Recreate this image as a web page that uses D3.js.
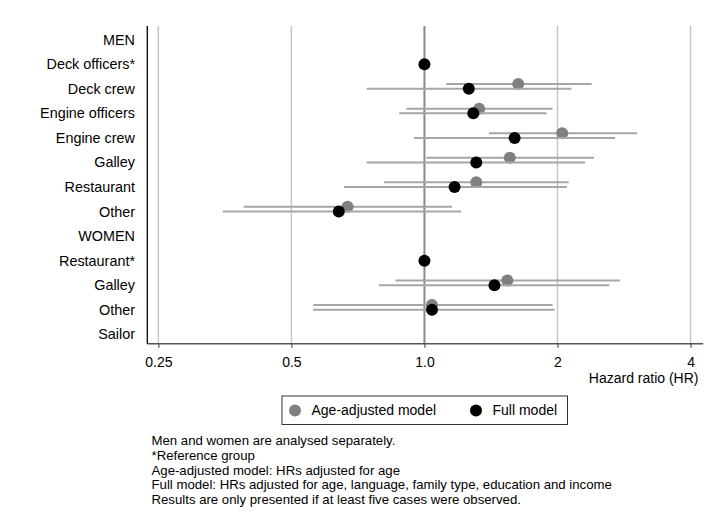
<!DOCTYPE html>
<html>
<head>
<meta charset="utf-8">
<script src="https://cdn.jsdelivr.net/npm/d3@7"></script>
<style>
  body { margin: 0; background: #fff; }
  text { font-family: Arial, "Liberation Sans", sans-serif; fill: #000; }
</style>
</head>
<body>
<div id="chart"></div>
<script>
// Rows, top to bottom
const categories = ["MEN", "Deck officers*", "Deck crew", "Engine officers", "Engine crew", "Galley",
  "Restaurant", "Other", "WOMEN", "Restaurant*", "Galley", "Other", "Sailor"];

// Age-adjusted model: HR and 95% CI
const ageHR    = [null, null, 1.63, 1.33, 2.05, 1.56, 1.31, 0.67, null, null, 1.54, 1.04, null];
const ageLower = [null, null, 1.12, 0.91, 1.40, 1.01, 0.81, 0.39, null, null, 0.86, 0.56, null];
const ageUpper = [null, null, 2.39, 1.95, 3.03, 2.42, 2.12, 1.155, null, null, 2.77, 1.95, null];

// Full model: HR and 95% CI
const fullHR    = [null, 1.0, 1.26, 1.29, 1.60, 1.31, 1.17, 0.64, null, 1.0, 1.44, 1.04, null];
const fullLower = [null, null, 0.74, 0.877, 0.947, 0.74, 0.658, 0.35, null, null, 0.789, 0.56, null];
const fullUpper = [null, null, 2.15, 1.89, 2.70, 2.31, 2.10, 1.21, null, null, 2.62, 1.97, null];

const tickValues = [0.25, 0.5, 1, 2, 4];
const tickLabels = ["0.25", "0.5", "1.0", "2", "4"];

const notes = [
  "Men and women are analysed separately.",
  "*Reference group",
  "Age-adjusted model: HRs adjusted for age",
  "Full model: HRs adjusted for age, language, family type, education and income",
  "Results are only presented if at least five cases were observed."
];

const width = 708, height = 523;
const plot = {left: 147.3, right: 701.7, top: 26, bottom: 343.7};

const svg = d3.select("#chart")
  .append("svg")
  .attr("width", width)
  .attr("height", height);

const xScale = d3.scaleLog().base(2)
  .domain([0.236, 4.24])
  .range([plot.left, plot.right]);

const yScale = d3.scaleLinear()
  .domain([-0.558, 12.383])
  .range([plot.top, plot.bottom]);

// gridlines
svg.append("g")
  .selectAll("line")
  .data(tickValues.filter(d => d !== 1))
  .join("line")
  .attr("x1", d => xScale(d)).attr("x2", d => xScale(d))
  .attr("y1", plot.top).attr("y2", plot.bottom)
  .attr("stroke", "#c6c6c6")
  .attr("stroke-width", 1.5);

// reference line at HR = 1
svg.append("line")
  .attr("x1", xScale(1)).attr("x2", xScale(1))
  .attr("y1", plot.top).attr("y2", plot.bottom)
  .attr("stroke", "#8a8a8a")
  .attr("stroke-width", 2);

// x axis
const xAxis = d3.axisBottom(xScale)
  .tickValues(tickValues)
  .tickFormat((d, i) => tickLabels[i])
  .tickSize(4)
  .tickPadding(9.5)
  .tickSizeOuter(0);

const gx = svg.append("g")
  .attr("transform", `translate(0,${plot.bottom})`)
  .call(xAxis);
gx.select(".domain").attr("stroke", "#555").attr("stroke-width", 1.5)
  .attr("d", `M${plot.left},0H${plot.right + 1.5}`);
gx.selectAll(".tick line").attr("stroke", "#555").attr("stroke-width", 1.2);
gx.selectAll(".tick text")
  .style("font-family", "Arial, 'Liberation Sans', sans-serif")
  .style("font-size", "14px")
  .attr("fill", "#000");

// left axis line
svg.append("line")
  .attr("x1", plot.left).attr("x2", plot.left)
  .attr("y1", plot.top).attr("y2", plot.bottom)
  .attr("stroke", "#000")
  .attr("stroke-width", 1.3);

// row labels
svg.append("g")
  .selectAll("text")
  .data(categories)
  .join("text")
  .attr("x", 135)
  .attr("y", (d, i) => yScale(i))
  .attr("dy", "0.35em")
  .attr("text-anchor", "end")
  .style("font-size", "14.4px")
  .text(d => d);

svg.append("text")
  .attr("x", 698.5)
  .attr("y", 383.3)
  .attr("text-anchor", "end")
  .style("font-size", "14px")
  .text("Hazard ratio (HR)");

// series
const series = [
  {hr: ageHR, lo: ageLower, hi: ageUpper, color: "#808080", offset: -4.7},
  {hr: fullHR, lo: fullLower, hi: fullUpper, color: "#000000", offset: 0}
];

series.forEach(s => {
  const rows = categories.map((c, i) => ({i, hr: s.hr[i], lo: s.lo[i], hi: s.hi[i]}));
  const g = svg.append("g");
  g.selectAll("line")
    .data(rows.filter(d => d.lo !== null))
    .join("line")
    .attr("x1", d => xScale(d.lo))
    .attr("x2", d => xScale(d.hi))
    .attr("y1", d => yScale(d.i) + s.offset)
    .attr("y2", d => yScale(d.i) + s.offset)
    .attr("stroke", "#a6a6a6")
    .attr("stroke-width", 2);
  g.selectAll("circle")
    .data(rows.filter(d => d.hr !== null))
    .join("circle")
    .attr("cx", d => xScale(d.hr))
    .attr("cy", d => yScale(d.i) + s.offset)
    .attr("r", 6)
    .attr("fill", s.color);
});

// legend
const legend = svg.append("g");
legend.append("rect")
  .attr("x", 282).attr("y", 396)
  .attr("width", 285.5).attr("height", 28.5)
  .attr("fill", "#fff")
  .attr("stroke", "#333")
  .attr("stroke-width", 1);
const legendItems = [
  {label: "Age-adjusted model", color: "#808080", x: 295},
  {label: "Full model", color: "#000000", x: 476}
];
legendItems.forEach(d => {
  legend.append("circle").attr("cx", d.x).attr("cy", 410.5).attr("r", 6).attr("fill", d.color);
  legend.append("text")
    .attr("x", d.x + 16.5).attr("y", 410.5).attr("dy", "0.35em")
    .style("font-size", "14px")
    .text(d.label);
});

// notes
svg.append("g")
  .selectAll("text")
  .data(notes)
  .join("text")
  .attr("x", 151.5)
  .attr("y", (d, i) => 445 + i * 14.8)
  .style("font-size", "13.2px")
  .text(d => d);
</script>
</body>
</html>
